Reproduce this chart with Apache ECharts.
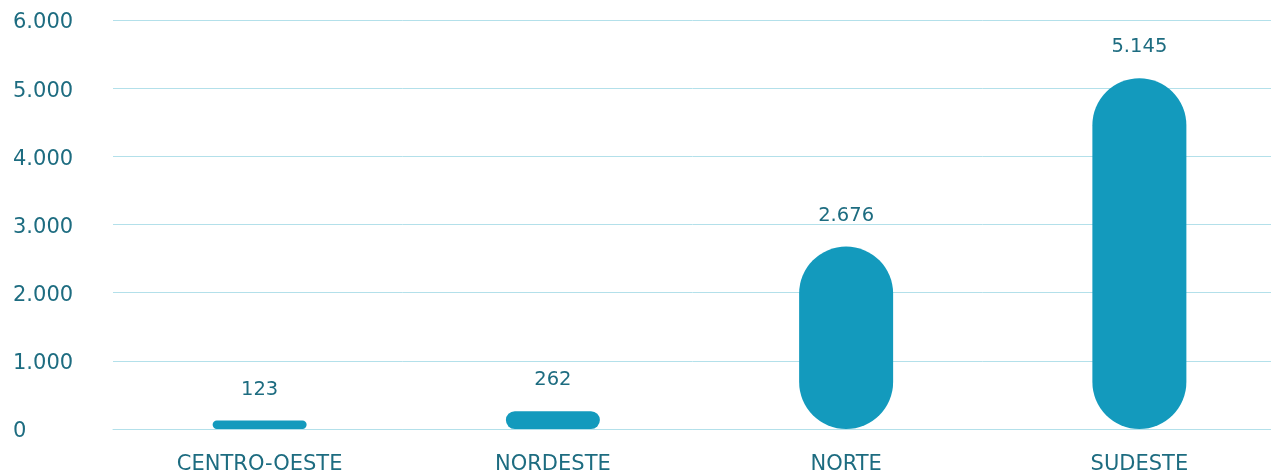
<!DOCTYPE html>
<html>
<head>
<meta charset="utf-8">
<script src="https://cdn.jsdelivr.net/npm/echarts@6/dist/echarts.min.js"></script>
<style>
  html, body { margin: 0; padding: 0; background: #fff; }
  #chart { width: 1271px; height: 476px; }
</style>
</head>
<body>
<div id="chart"></div>
<script>
// regiões e valores
const regioes = ['CENTRO-OESTE', 'NORDESTE', 'NORTE', 'SUDESTE'];
const valores = [123, 262, 2676, 5145];
const yMax = 6000;
const yStep = 1000;

const textColor = '#1d6c80';
const barColor = '#139abd';
const lineColor = '#b3e0ea';
const fonte = 'DejaVu Sans';

// 5145 -> "5.145"
function fmt(v) {
    return String(v).replace(/\B(?=(\d{3})+(?!\d))/g, '.');
}

const chart = echarts.init(document.getElementById('chart'));
chart.setOption({
    animation: false,
    // a grade passa um pouco da borda direita, como no original
    grid: { left: 113, right: -15, top: 20, bottom: 47, outerBoundsMode: 'none' },
    xAxis: {
        type: 'category',
        data: regioes,
        axisTick: { show: false },
        axisLine: { lineStyle: { color: lineColor, width: 1 } },
        axisLabel: {
            color: textColor,
            fontFamily: fonte,
            fontSize: 21,
            margin: 25
        }
    },
    yAxis: {
        type: 'value',
        min: 0,
        max: yMax,
        interval: yStep,
        axisLine: { show: false },
        axisTick: { show: false },
        splitLine: { lineStyle: { color: lineColor, width: 1 } },
        axisLabel: {
            color: textColor,
            fontFamily: fonte,
            fontSize: 21,
            align: 'left',
            margin: 100,
            formatter: v => '{v|' + fmt(v) + '}',
            rich: {
                // desce o texto uns 3px em relação à linha
                v: { fontFamily: fonte, fontSize: 21, color: textColor, padding: [6, 0, 0, 0] }
            }
        }
    },
    series: [{
        type: 'bar',
        data: valores,
        barWidth: 94,
        itemStyle: { color: barColor, borderRadius: 47 },
        label: {
            show: true,
            position: 'top',
            distance: 21,
            color: textColor,
            fontFamily: fonte,
            fontSize: 19.5,
            formatter: p => fmt(p.value)
        }
    }]
});
</script>
</body>
</html>
